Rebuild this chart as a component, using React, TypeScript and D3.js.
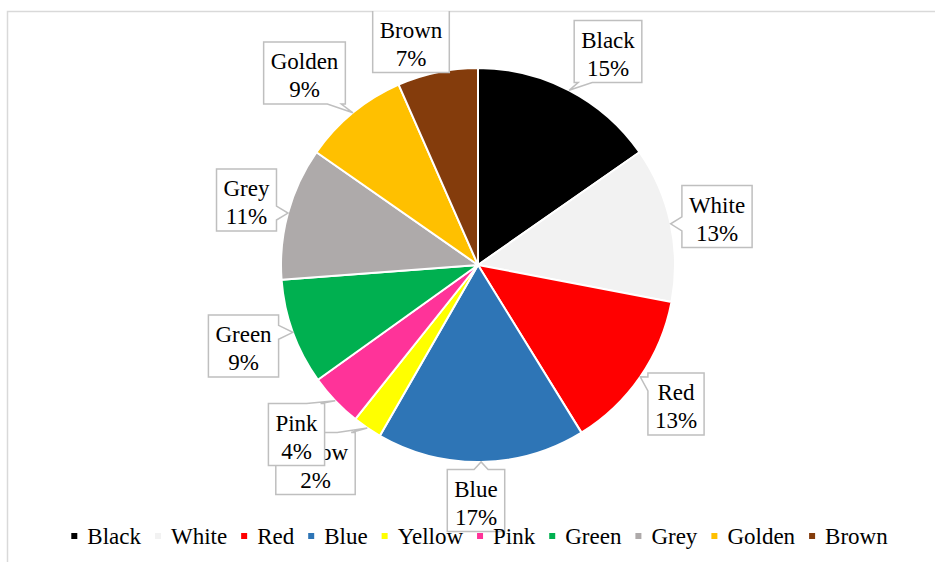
import React, { useMemo } from "react";
import * as d3 from "d3";

const categories = ["Black", "White", "Red", "Blue", "Yellow", "Pink", "Green", "Grey", "Golden", "Brown"];
const values = [15.3, 12.7, 13.2, 17.1, 2.4, 4.4, 8.7, 10.9, 8.7, 6.6];
const colors = ["#000000", "#f2f2f2", "#ff0000", "#2e75b6", "#ffff00", "#ff3399", "#00b050", "#aeaaaa", "#ffc000", "#843c0c"];
// label box centres (layout)
const labelCenters: [number, number][] = [
  [608, 51.5], [717, 216.5], [676, 404], [476, 500.5], [315.5, 463.5],
  [296.5, 434.5], [243.5, 346], [246.5, 200], [304.5, 73], [411, 41.5],
];

const W = 935, H = 562;
const CX = 478, CY = 265, R = 197;
const FAMILY = "'Liberation Serif', 'Times New Roman', Times, serif";
const SIZE = 23;

function measure(t: string): number {
  const c = document.createElement("canvas").getContext("2d")!;
  c.font = `${SIZE}px ${FAMILY}`;
  return c.measureText(t).width;
}

function calloutPath(x0: number, y0: number, x1: number, y1: number, tx: number, ty: number): string {
  const w = 14;
  const clamp = (v: number, a: number, b: number) => Math.max(a, Math.min(b, v));
  const inside = tx >= x0 && tx <= x1 && ty >= y0 && ty <= y1;
  if (inside) return `M${x0},${y0}L${x1},${y0}L${x1},${y1}L${x0},${y1}Z`;
  if (ty < y0) {
    const b1 = clamp(tx - w / 2, x0 + 4, x1 - 4 - w);
    return `M${x0},${y0}L${b1},${y0}L${tx},${ty}L${b1 + w},${y0}L${x1},${y0}L${x1},${y1}L${x0},${y1}Z`;
  }
  if (ty > y1) {
    const b1 = clamp(tx - w / 2, x0 + 4, x1 - 4 - w);
    return `M${x0},${y0}L${x1},${y0}L${x1},${y1}L${b1 + w},${y1}L${tx},${ty}L${b1},${y1}L${x0},${y1}Z`;
  }
  const b1 = clamp(ty - w / 2, y0 + 4, y1 - 4 - w);
  if (tx < x0) {
    return `M${x0},${y0}L${x1},${y0}L${x1},${y1}L${x0},${y1}L${x0},${b1 + w}L${tx},${ty}L${x0},${b1}Z`;
  }
  return `M${x0},${y0}L${x1},${y0}L${x1},${b1}L${tx},${ty}L${x1},${b1 + w}L${x1},${y1}L${x0},${y1}Z`;
}

export default function App() {
  const total = d3.sum(values);
  const arcs = useMemo(() => d3.pie<number>().sort(null).value((d) => d)(values), []);
  const arc = d3.arc<d3.PieArcDatum<number>>().innerRadius(0).outerRadius(R);
  const edge = d3.arc<d3.PieArcDatum<number>>().innerRadius(R).outerRadius(R);

  const labels = arcs.map((a, i) => {
    const pct = Math.round((values[i] / total) * 100) + "%";
    const tw = Math.max(measure(categories[i]), measure(pct));
    const bw = tw + 14, bh = 62;
    const [cx, cy] = labelCenters[i];
    const [ax, ay] = edge.centroid(a);
    const x0 = cx - bw / 2, y0 = cy - bh / 2;
    return { i, pct, x0, y0, x1: x0 + bw, y1: y0 + bh, cx, cy, tx: ax + CX, ty: ay + CY };
  });

  // legend layout
  const sq = 6, gapIn = 10, gapOut = 14;
  const widths = categories.map((c) => sq + gapIn + measure(c));
  const totalW = d3.sum(widths) + gapOut * (categories.length - 1);
  let lx = 479.5 - totalW / 2;
  const legend = categories.map((c, i) => {
    const x = lx;
    lx += widths[i] + gapOut;
    return { c, x, i };
  });

  return (
    <div style={{ position: "absolute", left: 0, top: 0 }}>
      <svg width={W} height={H} style={{ display: "block", background: "#ffffff" }} fontFamily={FAMILY} fontSize={SIZE}>
        <defs>
          <clipPath id="frameClip">
            <rect x={7} y={11} width={W} height={H} />
          </clipPath>
        </defs>
        <rect x={7.5} y={11.5} width={W + 10} height={H + 10} fill="#ffffff" stroke="#d9d9d9" strokeWidth={1.5} />
        <g transform={`translate(${CX},${CY})`}>
          {arcs.map((a, i) => (
            <path key={i} d={arc(a) || ""} fill={colors[i]} stroke="#ffffff" strokeWidth={2} strokeLinejoin="round" />
          ))}
        </g>
        <g clipPath="url(#frameClip)">
          {labels.map((l) => (
            <g key={l.i}>
              <path d={calloutPath(l.x0, l.y0, l.x1, l.y1, l.tx, l.ty)} fill="#ffffff" stroke="#bfbfbf" strokeWidth={1.5} strokeLinejoin="miter" />
              <text x={l.cx} y={l.cy - 4} textAnchor="middle" fill="#000" fontFamily={FAMILY} fontSize={SIZE}>{categories[l.i]}</text>
              <text x={l.cx} y={l.cy + 24} textAnchor="middle" fill="#000" fontFamily={FAMILY} fontSize={SIZE}>{l.pct}</text>
            </g>
          ))}
        </g>
        <g>
          {legend.map((d) => (
            <g key={d.c}>
              <rect x={d.x} y={533} width={sq} height={sq} fill={colors[d.i]} />
              <text x={d.x + sq + gapIn} y={544} fill="#000" fontFamily={FAMILY} fontSize={SIZE}>{d.c}</text>
            </g>
          ))}
        </g>
      </svg>
    </div>
  );
}
